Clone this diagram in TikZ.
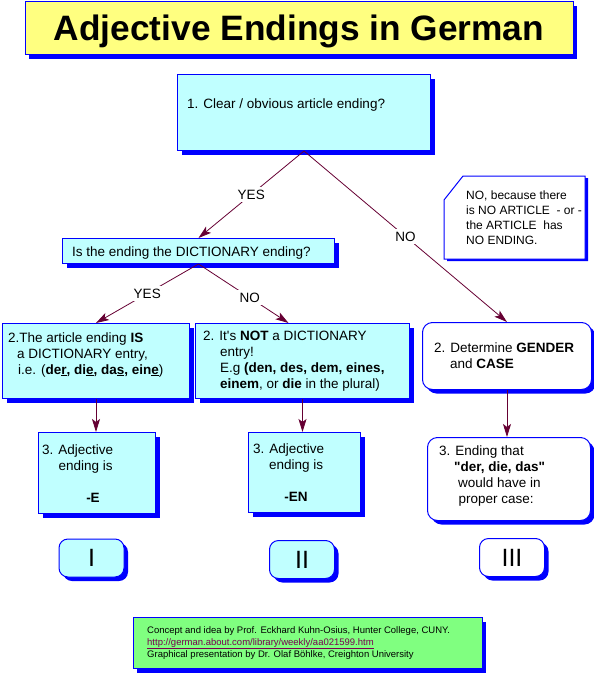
\documentclass[tikz,border=0pt]{standalone}
\usepackage{fontspec}
\setmainfont{Liberation Sans}[Ligatures=TeXOff]
\usetikzlibrary{arrows.meta,shadows}
\definecolor{cyanfill}{RGB}{192,255,255}
\definecolor{titlefill}{RGB}{255,255,128}
\definecolor{greenfill}{RGB}{128,255,128}
\definecolor{arrowc}{RGB}{102,0,51}
\definecolor{urlc}{RGB}{120,0,80}
\newcommand\boxlines[1]{\begin{tabular}[t]{@{}l@{}}#1\end{tabular}}
\begin{document}
\begin{tikzpicture}[x=1pt,y=-1pt,
  shadowed/.style={drop shadow={shadow xshift=4pt,shadow yshift=-4pt,fill=blue,opacity=1}},
  boxbase/.style={draw=blue,line width=1pt,anchor=north west,inner sep=0pt},
  cbox/.style={boxbase,shadowed,fill=cyanfill},
  rbox/.style={boxbase,shadowed,fill=white,rounded corners=10pt},
  nbox/.style={draw=blue,line width=1pt,inner sep=0pt,shadowed,rounded corners=9pt,
    minimum width=65pt,minimum height=38pt,font=\fontsize{25}{30}\selectfont},
  txt/.style={anchor=base west,inner sep=0pt,font=\fontsize{13.5}{16}\selectfont},
  big/.style={anchor=base,inner sep=0pt,font=\fontsize{13.5}{16}\selectfont\bfseries},
  conn/.style={draw=arrowc,line width=0.8pt,-{Stealth[length=13pt,width=8pt,inset=3pt]}},
  lbl/.style={fill=white,inner sep=2.5pt,font=\fontsize{13.5}{16}\selectfont}
]
\useasboundingbox (0,0) rectangle (594,673);

% title
\node[boxbase,fill=titlefill,minimum width=548pt,minimum height=53pt,
  drop shadow={shadow xshift=3pt,shadow yshift=-4pt,fill=blue,opacity=1}] (title) at (25,1) {};
\node[anchor=base,inner sep=0pt,font=\fontsize{35.3}{40}\selectfont\bfseries] (titlet) at (299,40) {Adjective Endings in German};

% question 1
\node[cbox,minimum width=253pt,minimum height=76pt] (q1) at (177,74) {};
\node[txt] (q1t) at (187,108) {1. Clear / obvious article ending?};

% dictionary question
\node[cbox,minimum width=272pt,minimum height=25pt] (dict) at (62,238) {};
\node[txt] (dictt) at (72,256) {Is the ending the DICTIONARY ending?};

% note
\fill[blue] (447,202) -- (466,178) -- (588,178) -- (588,261) -- (447,261) -- cycle;
\draw[blue,line width=1pt,fill=white] (444,200) -- (463,176) -- (585,176) -- (585,259) -- (444,259) -- cycle;
\node[anchor=base west,inner sep=0pt,font=\fontsize{12}{15}\selectfont] (note) at (466,199)
  {\boxlines{NO, because there\\is NO ARTICLE\ \ - or -\\the ARTICLE\ \ has\\NO ENDING.}};

% step 2 boxes
\node[cbox,minimum width=187pt,minimum height=75pt] (a2) at (2,323) {};
\node[txt] (a2t) at (8,342) {\boxlines{2.The article ending \textbf{IS}\\
  \hspace*{9pt}a DICTIONARY entry,\\
  \hspace*{10pt}i.e. (\textbf{de\underline{r}, di\underline{e}, da\underline{s}, ein\underline{e}})}};

\node[cbox,minimum width=214pt,minimum height=75pt] (b2) at (195,323) {};
\node[txt] (b2t) at (203,340) {\boxlines{2. It's \textbf{NOT} a DICTIONARY\\
  \hspace*{17pt}entry!\\
  \hspace*{17pt}E.g \textbf{(den, des, dem, eines,}\\
  \hspace*{17pt}\textbf{einem}, or \textbf{die} in the plural)}};

\node[rbox,minimum width=169pt,minimum height=67pt] (c2) at (422,322) {};
\node[txt] (c2t) at (434,352) {\boxlines{2. Determine \textbf{GENDER}\\
  \hspace*{16pt}and \textbf{CASE}}};

% step 3 boxes
\node[cbox,minimum width=117pt,minimum height=81pt] (a3) at (38,432) {};
\node[txt] (a3t) at (42,454) {\boxlines{3. Adjective\\\hspace*{16.5pt}ending is}};
\node[big] (a3e) at (93,502) {-E};

\node[cbox,minimum width=112pt,minimum height=80pt] (b3) at (248,432) {};
\node[txt] (b3t) at (253,453) {\boxlines{3. Adjective\\\hspace*{16pt}ending is}};
\node[big] (b3e) at (296,501) {-EN};

\node[rbox,minimum width=163pt,minimum height=83pt] (c3) at (427,437) {};
\node[txt] (c3t) at (439,455) {\boxlines{3. Ending that\\
  \hspace*{15pt}\textbf{"der, die, das"}\\
  \hspace*{19pt}would have in\\
  \hspace*{19.5pt}proper case:}};

% numerals
\node[nbox,fill=cyanfill] (n1) at (91.5,558) {I};
\node[nbox,fill=cyanfill] (n2) at (302,559.5) {II};
\node[nbox,fill=white] (n3) at (512,557.5) {III};

% footer
\node[boxbase,fill=greenfill,minimum width=349pt,minimum height=51pt,
  drop shadow={shadow xshift=3pt,shadow yshift=-4pt,fill=blue,opacity=1}] (foot) at (133,617) {};
\node[anchor=base west,inner sep=0pt,font=\fontsize{9.5}{12}\selectfont] (foott) at (147,633)
  {\boxlines{Concept and idea by Prof. Eckhard Kuhn-Osius, Hunter College, CUNY.\\
  \textcolor{urlc}{\underline{http://german.about.com/library/weekly/aa021599.htm}}\\
  Graphical presentation by Dr. Olaf Böhlke, Creighton University}};

% connectors
\draw[conn] (q1.south) -- node[lbl] (yes1) {YES} (dict.north);
\draw[conn] (q1.south) -- node[lbl] (no1) {NO} (c2.north);
\draw[conn] (dict.south) -- node[lbl] (yes2) {YES} (a2.north);
\draw[conn] (dict.south) -- node[lbl,pos=0.57] (no2) {NO} ([xshift=-14pt]b2.north);
\draw[conn] (a2.south) -- (a2.south |- a3.north);
\draw[conn] (b2.south) -- (b2.south |- b3.north);
\draw[conn] (c2.south) -- (c2.south |- c3.north);
\end{tikzpicture}
\end{document}
